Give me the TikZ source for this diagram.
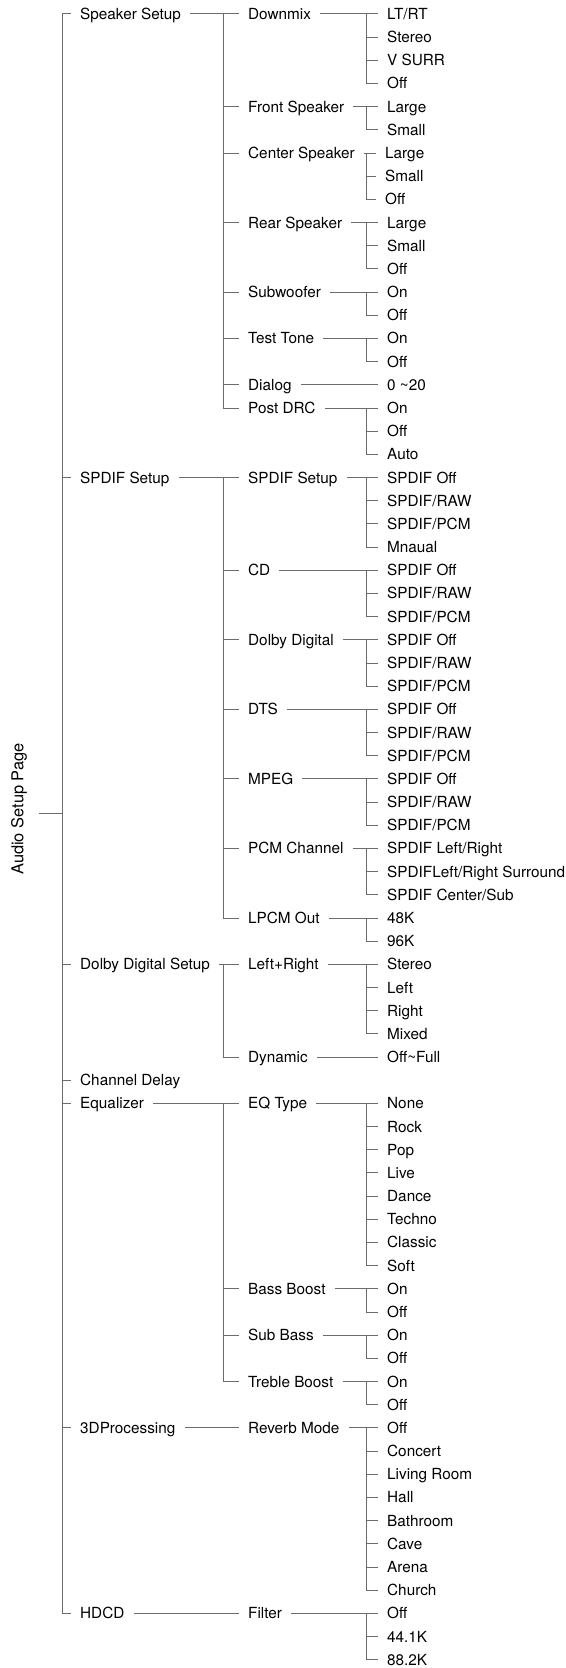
\documentclass[tikz,border=0pt]{standalone}
\usepackage{fontspec}
\setmainfont{TeX Gyre Heros}
\begin{document}
\begin{tikzpicture}[x=1pt,y=-23.18pt,
  conn/.style={draw=black!58,line width=1pt},
  txt/.style={font=\fontsize{15.3}{18}\selectfont,inner xsep=9pt,inner ysep=0pt,text height=10.9pt,text depth=0pt,anchor=west},
  rootlbl/.style={font=\fontsize{16.4}{19}\selectfont,rotate=90,inner sep=0pt}]
\useasboundingbox (0,0.396) rectangle (566,72.356);
\newcommand\tgrp[5]{%
  \draw[conn] (#2.east) -- (#3.west);
  \draw[conn] (#3.west -| #1) -- (#4.west -| #1) -- (#4.west);
  \foreach \m in {#5} {\draw[conn] (\m.west -| #1) -- (\m.west);}
}
\coordinate (v0) at (62.7,0);
\coordinate (v1) at (224,0);
\coordinate (v2) at (367,0);
% root
\node[rootlbl] (root) at (19,35.3) {Audio Setup Page};
\coordinate (rstub) at (39,35.5);
% level 1
\node[txt] (s1) at (71,1) {Speaker Setup};
\node[txt] (s2) at (71,21) {SPDIF Setup};
\node[txt] (s3) at (71,42) {Dolby Digital Setup};
\node[txt] (s4) at (71,47) {Channel Delay};
\node[txt] (s5) at (71,48) {Equalizer};
\node[txt] (s6) at (71,62) {3DProcessing};
\node[txt] (s7) at (71,70) {HDCD};
% level 2
\node[txt] (a1) at (239,1) {Downmix};
\node[txt] (a2) at (239,5) {Front Speaker};
\node[txt] (a3) at (239,7) {Center Speaker};
\node[txt] (a4) at (239,10) {Rear Speaker};
\node[txt] (a5) at (239,13) {Subwoofer};
\node[txt] (a6) at (239,15) {Test Tone};
\node[txt] (a7) at (239,17) {Dialog};
\node[txt] (a8) at (239,18) {Post DRC};
\node[txt] (b1) at (239,21) {SPDIF Setup};
\node[txt] (b2) at (239,25) {CD};
\node[txt] (b3) at (239,28) {Dolby Digital};
\node[txt] (b4) at (239,31) {DTS};
\node[txt] (b5) at (239,34) {MPEG};
\node[txt] (b6) at (239,37) {PCM Channel};
\node[txt] (b7) at (239,40) {LPCM Out};
\node[txt] (c1) at (239,42) {Left+Right};
\node[txt] (c2) at (239,46) {Dynamic};
\node[txt] (e1) at (239,48) {EQ Type};
\node[txt] (e2) at (239,56) {Bass Boost};
\node[txt] (e3) at (239,58) {Sub Bass};
\node[txt] (e4) at (239,60) {Treble Boost};
\node[txt] (f1) at (239,62) {Reverb Mode};
\node[txt] (h1) at (239,70) {Filter};
% leaves
\node[txt] (l1) at (378,1) {LT/RT};
\node[txt] (l2) at (378,2) {Stereo};
\node[txt] (l3) at (378,3) {V SURR};
\node[txt] (l4) at (378,4) {Off};
\node[txt] (l5) at (378,5) {Large};
\node[txt] (l6) at (378,6) {Small};
\node[txt] (l7) at (376,7) {Large};
\node[txt] (l8) at (376,8) {Small};
\node[txt] (l9) at (376,9) {Off};
\node[txt] (l10) at (378,10) {Large};
\node[txt] (l11) at (378,11) {Small};
\node[txt] (l12) at (378,12) {Off};
\node[txt] (l13) at (378,13) {On};
\node[txt] (l14) at (378,14) {Off};
\node[txt] (l15) at (378,15) {On};
\node[txt] (l16) at (378,16) {Off};
\node[txt] (l17) at (378,17) {0 \textasciitilde{}20};
\node[txt] (l18) at (378,18) {On};
\node[txt] (l19) at (378,19) {Off};
\node[txt] (l20) at (378,20) {Auto};
\node[txt] (l21) at (378,21) {SPDIF Off};
\node[txt] (l22) at (378,22) {SPDIF/RAW};
\node[txt] (l23) at (378,23) {SPDIF/PCM};
\node[txt] (l24) at (378,24) {Mnaual};
\node[txt] (l25) at (378,25) {SPDIF Off};
\node[txt] (l26) at (378,26) {SPDIF/RAW};
\node[txt] (l27) at (378,27) {SPDIF/PCM};
\node[txt] (l28) at (378,28) {SPDIF Off};
\node[txt] (l29) at (378,29) {SPDIF/RAW};
\node[txt] (l30) at (378,30) {SPDIF/PCM};
\node[txt] (l31) at (378,31) {SPDIF Off};
\node[txt] (l32) at (378,32) {SPDIF/RAW};
\node[txt] (l33) at (378,33) {SPDIF/PCM};
\node[txt] (l34) at (378,34) {SPDIF Off};
\node[txt] (l35) at (378,35) {SPDIF/RAW};
\node[txt] (l36) at (378,36) {SPDIF/PCM};
\node[txt] (l37) at (378,37) {SPDIF Left/Right};
\node[txt] (l38) at (378,38) {SPDIFLeft/Right Surround};
\node[txt] (l39) at (378,39) {SPDIF Center/Sub};
\node[txt] (l40) at (378,40) {48K};
\node[txt] (l41) at (378,41) {96K};
\node[txt] (l42) at (378,42) {Stereo};
\node[txt] (l43) at (378,43) {Left};
\node[txt] (l44) at (378,44) {Right};
\node[txt] (l45) at (378,45) {Mixed};
\node[txt] (l46) at (378,46) {Off\textasciitilde{}Full};
\node[txt] (l48) at (378,48) {None};
\node[txt] (l49) at (378,49) {Rock};
\node[txt] (l50) at (378,50) {Pop};
\node[txt] (l51) at (378,51) {Live};
\node[txt] (l52) at (378,52) {Dance};
\node[txt] (l53) at (378,53) {Techno};
\node[txt] (l54) at (378,54) {Classic};
\node[txt] (l55) at (378,55) {Soft};
\node[txt] (l56) at (378,56) {On};
\node[txt] (l57) at (378,57) {Off};
\node[txt] (l58) at (378,58) {On};
\node[txt] (l59) at (378,59) {Off};
\node[txt] (l60) at (378,60) {On};
\node[txt] (l61) at (378,61) {Off};
\node[txt] (l62) at (378,62) {Off};
\node[txt] (l63) at (378,63) {Concert};
\node[txt] (l64) at (378,64) {Living Room};
\node[txt] (l65) at (378,65) {Hall};
\node[txt] (l66) at (378,66) {Bathroom};
\node[txt] (l67) at (378,67) {Cave};
\node[txt] (l68) at (378,68) {Arena};
\node[txt] (l69) at (378,69) {Church};
\node[txt] (l70) at (378,70) {Off};
\node[txt] (l71) at (378,71) {44.1K};
\node[txt] (l72) at (378,72) {88.2K};
% root connectors
\draw[conn] (rstub) -- (rstub -| v0);
\draw[conn] (s1.west) -- (s1.west -| v0) -- (s7.west -| v0) -- (s7.west);
\foreach \m in {s2,s3,s4,s5,s6} {\draw[conn] (\m.west -| v0) -- (\m.west);}
% level 1 -> level 2
\tgrp{v1}{s1}{a1}{a8}{a2,a3,a4,a5,a6,a7}
\tgrp{v1}{s2}{b1}{b7}{b2,b3,b4,b5,b6}
\tgrp{v1}{s3}{c1}{c2}{c1}
\tgrp{v1}{s5}{e1}{e4}{e2,e3}
\draw[conn] (s6.east) -- (f1.west);
\draw[conn] (s7.east) -- (h1.west);
% level 2 -> leaves
\tgrp{v2}{a1}{l1}{l4}{l2,l3}
\tgrp{v2}{a2}{l5}{l6}{l5}
\tgrp{v2}{a3}{l7}{l9}{l8}
\tgrp{v2}{a4}{l10}{l12}{l11}
\tgrp{v2}{a5}{l13}{l14}{l13}
\tgrp{v2}{a6}{l15}{l16}{l15}
\draw[conn] (a7.east) -- (l17.west);
\tgrp{v2}{a8}{l18}{l20}{l19}
\tgrp{v2}{b1}{l21}{l24}{l22,l23}
\tgrp{v2}{b2}{l25}{l27}{l26}
\tgrp{v2}{b3}{l28}{l30}{l29}
\tgrp{v2}{b4}{l31}{l33}{l32}
\tgrp{v2}{b5}{l34}{l36}{l35}
\tgrp{v2}{b6}{l37}{l39}{l38}
\tgrp{v2}{b7}{l40}{l41}{l40}
\tgrp{v2}{c1}{l42}{l45}{l43,l44}
\draw[conn] (c2.east) -- (l46.west);
\tgrp{v2}{e1}{l48}{l55}{l49,l50,l51,l52,l53,l54}
\tgrp{v2}{e2}{l56}{l57}{l56}
\tgrp{v2}{e3}{l58}{l59}{l58}
\tgrp{v2}{e4}{l60}{l61}{l60}
\tgrp{v2}{f1}{l62}{l69}{l63,l64,l65,l66,l67,l68}
\tgrp{v2}{h1}{l70}{l72}{l71}
\end{tikzpicture}
\end{document}
